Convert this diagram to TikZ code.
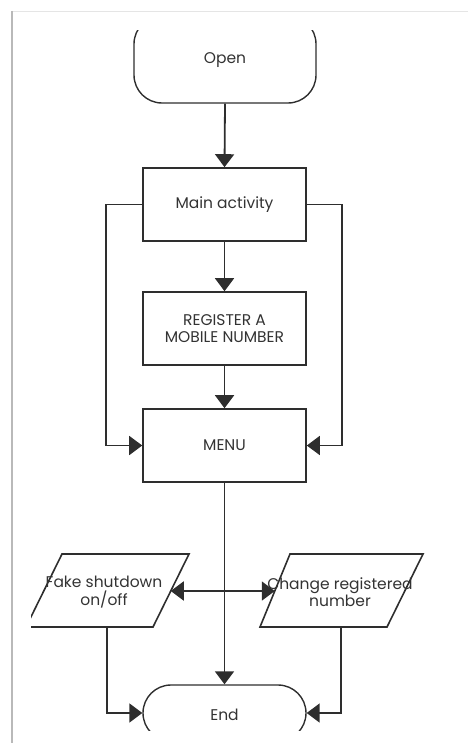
\documentclass[tikz,border=0pt]{standalone}
\usepackage{fontspec}
\setmainfont{Poppins}
\usetikzlibrary{arrows.meta,calc}
\definecolor{ln}{HTML}{2E2E2E}
\definecolor{tx}{HTML}{333333}
\begin{document}
\begin{tikzpicture}[x=1pt,y=1pt,
  every node/.style={text=tx,font=\fontsize{15.5}{17.5}\selectfont,align=center},
  box/.style={draw=ln,line width=1.6pt,minimum width=163pt,minimum height=73pt,inner sep=0pt},
  term/.style={draw=ln,line width=1.4pt,rounded corners=28pt,inner sep=0pt},
  para/.style={draw=ln,line width=1.6pt},
  conn/.style={draw=ln,line width=1.8pt,-{Triangle[length=13pt,width=19pt]}}]
\useasboundingbox (0,0) rectangle (468,-743);
% frame of the screenshot
\draw[gray!20,line width=1.2pt] (11,-11.5) -- (468,-11.5);
\draw[gray!55,line width=2.5pt] (12,-11) -- (12,-743);
% Open terminator (clipped at top)
\begin{scope}
  \clip (0,-31) rectangle (468,-743);
  \node[term,minimum width=182pt,minimum height=87pt] (open) at (225,-59.5) {};
\end{scope}
\node at (225,-60) {Open};
% boxes
\node[box] (main) at (224.5,-204.5) {Main activity};
\node[box] (reg) at (224.5,-328.5) {REGISTER A\\MOBILE NUMBER};
\node[box] (menu) at (224.5,-445.5) {MENU};
% End terminator (clipped at bottom)
\begin{scope}
  \clip (0,0) rectangle (468,-730);
  \node[term,minimum width=163pt,minimum height=56pt] (end) at (224.5,-713) {};
\end{scope}
\node at (224.5,-715) {End};
% parallelograms
\coordinate (lTL) at (62,-554); \coordinate (lTR) at (189,-554);
\coordinate (lBR) at (153,-627); \coordinate (lBL) at (26,-627);
\begin{scope}
  \clip (31,0) rectangle (468,-743);
  \draw[para] (lTL) -- (lTR) -- (lBR) -- (lBL) -- cycle;
\end{scope}
\node (fake) at (104,-592) {Fake shutdown\\on/off};
\coordinate (rTL) at (290,-554); \coordinate (rTR) at (423,-554);
\coordinate (rBR) at (387,-627); \coordinate (rBL) at (260,-627);
\draw[para] (rTL) -- (rTR) -- (rBR) -- (rBL) -- cycle;
\node (chg) at (340,-592) {Change registered\\number};
% connectors
\draw[conn] (open.south) -- (main.north);
\draw[conn] (main.south) -- (reg.north);
\draw[conn] (reg.south) -- (menu.north);
\draw[conn] (main.west) -- ++(-36,0) |- (menu.west);
\draw[conn] (main.east) -- ++(35,0) |- (menu.east);
\draw[conn] (menu.south) -- (end.north);
\coordinate (lmid) at ($(lTR)!0.507!(lBR)$);
\coordinate (rmid) at ($(rTL)!0.507!(rBL)$);
\draw[conn,{Triangle[length=13pt,width=19pt]}-{Triangle[length=13pt,width=19pt]}] (lmid) -- (rmid);
\coordinate (lbot) at (107,-627);
\coordinate (rbot) at (341,-627);
\draw[conn] (lbot) |- (end.west);
\draw[conn] (rbot) |- (end.east);
\end{tikzpicture}
\end{document}
